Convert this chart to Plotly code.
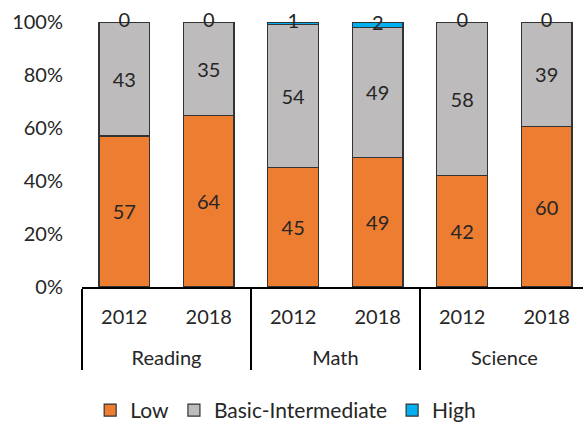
import plotly.graph_objects as go

subjects = ["Reading", "Reading", "Math", "Math", "Science", "Science"]
years = ["2012", "2018", "2012", "2018", "2012", "2018"]
low = [57, 64, 45, 49, 42, 60]
basic = [43, 35, 54, 49, 58, 39]
high = [0, 0, 1, 2, 0, 0]

FONT = "Lato"
TXT = "#262626"
x = [["<br>" + s for s in subjects], years]

fig = go.Figure()
series = [("Low", low, "#ED7D31"), ("Basic-Intermediate", basic, "#BDBBBB"), ("High", high, "#00B0F0")]
for name, vals, col in series:
    fig.add_trace(go.Bar(
        x=x, y=vals, name=name,
        marker=dict(color=col, line=dict(color="#333333", width=1.2)),
        text=[str(v) for v in vals] if name != "High" else None,
        textposition="inside", insidetextanchor="middle",
        textfont=dict(family=FONT, size=20, color=TXT),
        textangle=0,
    ))

# labels for the High series (sit at the top of each bar)
tot = [l + b + h for l, b, h in zip(low, basic, high)]
ypos = [100 * (l + b + h / 2) / t for l, b, h, t in zip(low, basic, high, tot)]
fig.add_trace(go.Scatter(
    x=x, y=ypos, mode="text", text=[str(v) for v in high],
    textposition="middle center", showlegend=False, hoverinfo="skip",
    textfont=dict(family=FONT, size=20, color=TXT), cliponaxis=False,
))

fig.update_layout(
    barmode="stack", barnorm="percent", bargap=0.4,
    width=583, height=425,
    margin=dict(l=82, r=0, t=22, b=138, autoexpand=False),
    paper_bgcolor="white", plot_bgcolor="white",
    font=dict(family=FONT, size=19, color=TXT),
    showlegend=True,
    legend=dict(orientation="h", x=0.49, xanchor="center", xref="container",
                y=-0.543, yanchor="bottom", yref="paper",
                font=dict(family=FONT, size=21, color=TXT), traceorder="normal",
                itemwidth=30),
)
fig.update_xaxes(
    type="multicategory", range=[-0.5, 5.43], automargin=False,
    showline=True, linecolor="#000000", linewidth=2,
    showdividers=True, dividercolor="#000000", dividerwidth=2,
    tickfont=dict(family=FONT, size=20, color=TXT), ticks="",
    ticklabelstandoff=11,
)
fig.update_yaxes(
    range=[0, 100], dtick=20, ticksuffix="%", showgrid=False, showline=False,
    zeroline=False, ticks="", ticklabelstandoff=18, automargin=False,
    tickfont=dict(family=FONT, size=20, color=TXT),
)

fig.write_html("out.html")
